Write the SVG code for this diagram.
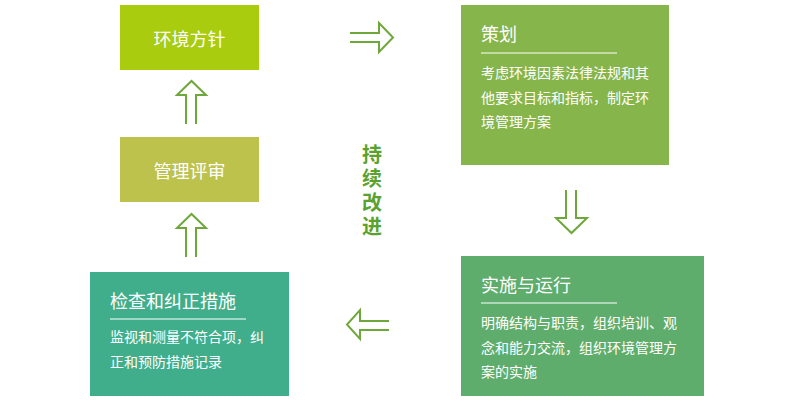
<svg xmlns="http://www.w3.org/2000/svg" width="792" height="411" viewBox="0 0 792 411">
<style>
.t{font-family:"Noto Sans CJK SC","Liberation Sans",sans-serif;fill:#ffffff}
.c{font-size:18px;text-anchor:middle;dominant-baseline:central}
.h{font-size:18px}
.b{font-size:14px}
.ln{stroke:#ffffff;stroke-width:1.2}
.ar{fill:none;stroke:#6fa83a;stroke-width:2;stroke-linejoin:miter}
.k{font-family:"Noto Sans CJK SC","Liberation Sans",sans-serif;font-size:20px;font-weight:bold;fill:#5aa22c;writing-mode:vertical-rl;letter-spacing:4px}
</style>
<rect width="792" height="411" fill="#ffffff"/>
<g id="policy">
<rect x="120" y="5" width="139" height="65" fill="#a9cc0f"/>
<text class="t c" x="189.5" y="37.5">环境方针</text>
</g>
<g id="review">
<rect x="120" y="137" width="139" height="65" fill="#bdc24d"/>
<text class="t c" x="189.5" y="169.5">管理评审</text>
</g>
<g id="plan">
<rect x="461" y="5" width="208" height="160" fill="#86b54b"/>
<text class="t h" x="481" y="41">策划</text>
<line class="ln" x1="481" y1="53" x2="617" y2="53"/>
<text class="t b" x="481" y="78">考虑环境因素法律法规和其</text>
<text class="t b" x="481" y="103">他要求目标和指标，制定环</text>
<text class="t b" x="481" y="127">境管理方案</text>
</g>
<g id="do">
<rect x="461" y="256" width="243" height="140" fill="#5fad6c"/>
<text class="t h" x="481" y="292">实施与运行</text>
<line class="ln" x1="481" y1="303" x2="617" y2="303"/>
<text class="t b" x="481" y="328">明确结构与职责，组织培训、观</text>
<text class="t b" x="481" y="353">念和能力交流，组织环境管理方</text>
<text class="t b" x="481" y="377">案的实施</text>
</g>
<g id="check">
<rect x="90" y="272" width="199" height="124" fill="#41ae8b"/>
<text class="t h" x="110" y="308">检查和纠正措施</text>
<line class="ln" x1="110" y1="319" x2="246" y2="319"/>
<text class="t b" x="110" y="342">监视和测量不符合项，纠</text>
<text class="t b" x="110" y="367">正和预防措施记录</text>
</g>
<g id="center">
<text class="k" x="372" y="144">持续改进</text>
</g>
<g id="connectors">
<path class="ar" d="M186,124 V95 H177 L191.5,81 L206,95 H196 V124"/>
<path class="ar" d="M186,257 V228 H177 L191.5,214 L206,228 H196 V257"/>
<path class="ar" d="M350,33 H379 V23 L393,37.5 L379,52 V42 H350"/>
<path class="ar" d="M566,190 V218 H556 L571.5,233 L587,218 H576 V190"/>
<path class="ar" d="M389,321 H360 V310 L347,324.5 L360,339 V330 H389"/>
</g>
</svg>
